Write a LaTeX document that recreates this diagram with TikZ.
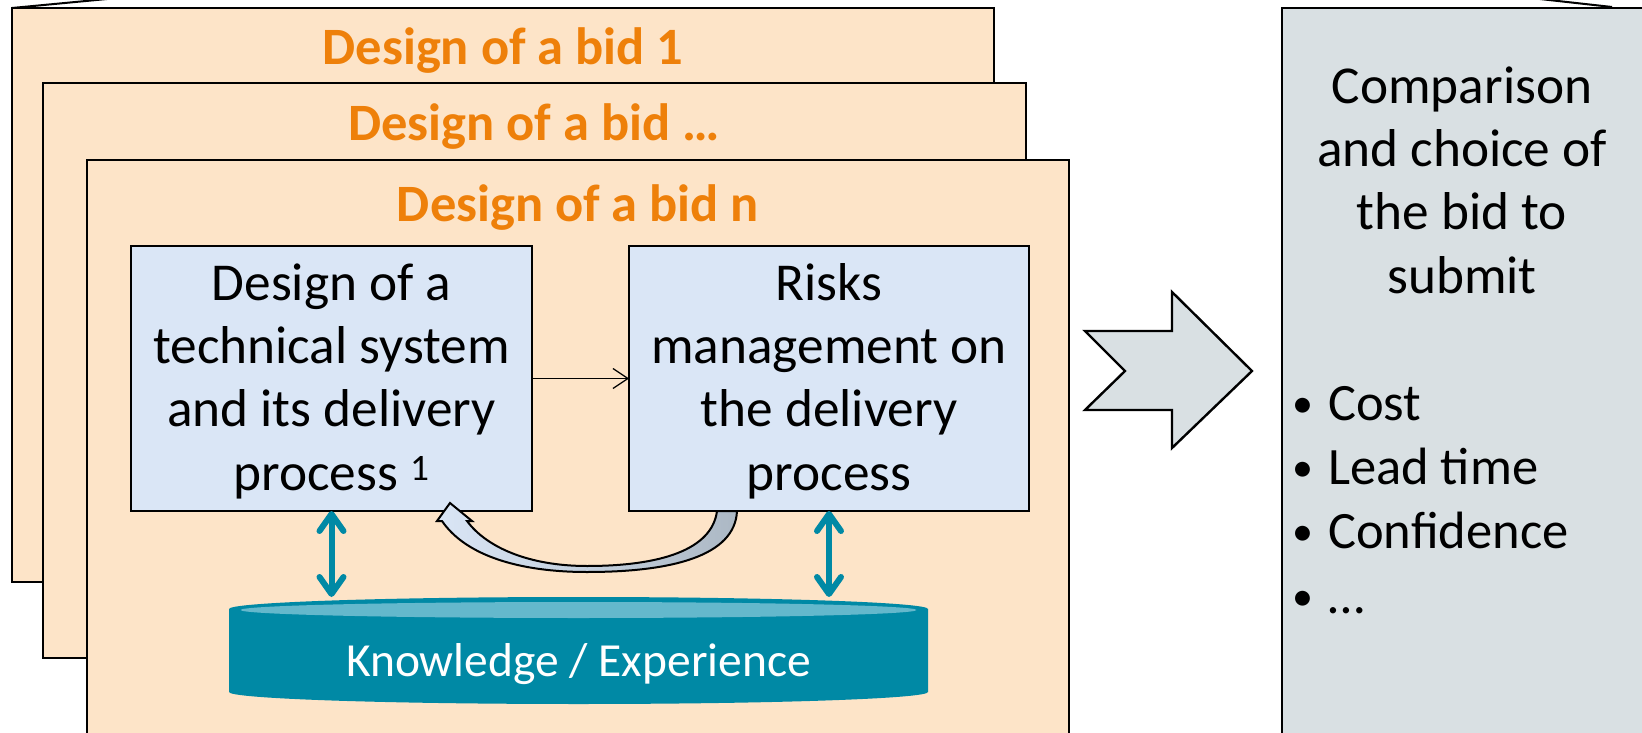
\documentclass[tikz,border=0pt]{standalone}
\usepackage{fontspec}
\setmainfont{Carlito}
\usetikzlibrary{arrows.meta}
\definecolor{peach}{RGB}{253,228,200}
\definecolor{bidorange}{RGB}{238,128,10}
\definecolor{boxblue}{RGB}{218,230,246}
\definecolor{boxgray}{RGB}{217,224,227}
\definecolor{kbteal}{RGB}{0,137,165}
\definecolor{kblight}{RGB}{100,184,204}
\definecolor{arrowgray}{RGB}{172,184,196}
\newcommand{\critbullet}{\makebox[38pt][l]{\hspace{2pt}\raisebox{3pt}{\fontsize{42}{42}\selectfont •}}}
\begin{document}
\begin{tikzpicture}[x=1pt,y=-1pt,
  bidbox/.style={draw=black, line width=2.8pt, fill=peach, anchor=north west, outer sep=0pt, inner sep=0pt},
  bidtitle/.style={anchor=base, text=bidorange, font=\fontsize{52.5}{62}\selectfont\bfseries, inner sep=0pt},
  stepbox/.style={draw=black, line width=1.4pt, fill=boxblue, minimum height=265pt, inner sep=0pt, outer sep=0pt},
  bodytext/.style={anchor=base, align=center, font=\fontsize{53.3}{63.3}\selectfont, inner sep=0pt},
  thinarrow/.style={draw=black, line width=1.2pt, -{Straight Barb[length=15pt, width=20pt]}},
  kbarrow/.style={draw=kbteal, line width=6pt, {Straight Barb[length=17pt, width=24pt, round]}-{Straight Barb[length=17pt, width=24pt, round]}},
  bigarrow/.style={draw=black, line width=2.4pt, fill=boxgray, line join=miter},
  curvedarrow/.style={draw=black, line width=2pt, left color=boxblue, right color=arrowgray},
]
\useasboundingbox (0,0) rectangle (1642,733);
\clip (0,0) rectangle (1642,733);

% stacked bid sheets
\node[bidbox, minimum width=982pt, minimum height=574pt] (bid1) at (12,8) {};
\draw[line width=2pt] (bid1.north west) -- (107,-1);
\node[bidtitle] (t1) at (503,65) {Design of a bid 1};
\node[bidbox, minimum width=983pt, minimum height=575pt] (bid2) at (43,83) {};
\node[bidtitle] (t2) at (534,141) {Design of a bid …};
\node[bidbox, minimum width=982pt, minimum height=620pt] (bid3) at (87,160) {};
\node[bidtitle] (t3) at (578,222) {Design of a bid n};

% inner steps
\node[stepbox, minimum width=401pt] (lbox) at (331.5,378.5) {};
\node[stepbox, minimum width=400pt] (rbox) at (829,378.5) {};
\node[bodytext] (ltext) at (331.5,490) {Design of a\\technical system\\and its delivery\\process \textsuperscript{1}};
\node[bodytext] (rtext) at (829,490) {Risks\\management on\\the delivery\\process};
\draw[thinarrow] (lbox.east) -- (rbox.west);

% knowledge base cylinder
\fill[kbteal] (229,609) -- (229,692) arc[start angle=180, end angle=0, x radius=349.5, y radius=12]
  -- (928,609) arc[start angle=0, end angle=-180, x radius=349.5, y radius=12] -- cycle;
\fill[kblight] (578.5,610) ellipse [x radius=338, y radius=8];
\node[anchor=base, text=white, font=\fontsize{47.5}{57}\selectfont, inner sep=0pt] (kb) at (578.5,676) {Knowledge / Experience};
\coordinate (kbl) at (331.5,597);
\coordinate (kbr) at (829,597);
\draw[kbarrow] (lbox.south) -- (kbl);
\draw[kbarrow] (rbox.south) -- (kbr);

% curved feedback arrow
\draw[curvedarrow] (717,511) .. controls (712,550) and (660,566) .. (587,566)
  .. controls (530,566) and (487,548) .. (467,521) -- (472,521) -- (450,503) -- (437,521) -- (442,521)
  .. controls (466,556) and (520,572) .. (587,572)
  .. controls (672,572) and (735,556) .. (737,511) -- cycle;

% big arrow
\draw[bigarrow] (1085,331) -- (1172,331) -- (1172,292) -- (1252,371) -- (1172,448) -- (1172,410) -- (1085,410) -- (1125,371) -- cycle;

% choice box
\node[draw=black, line width=2.8pt, fill=boxgray, anchor=north west, outer sep=0pt, inner sep=0pt,
  minimum width=380pt, minimum height=760pt] (choice) at (1282,8) {};
\draw[line width=2pt] (1540,-1) -- (1612,7);
\node[bodytext] (ctext) at (1462,293) {Comparison\\and choice of\\the bid to\\submit};
\node[anchor=base west, align=left, font=\fontsize{52.5}{64.3}\selectfont, inner sep=0pt] (crit) at (1290,613)
  {\critbullet Cost\\\critbullet Lead time\\\critbullet Confidence\\\critbullet …};
\end{tikzpicture}
\end{document}
